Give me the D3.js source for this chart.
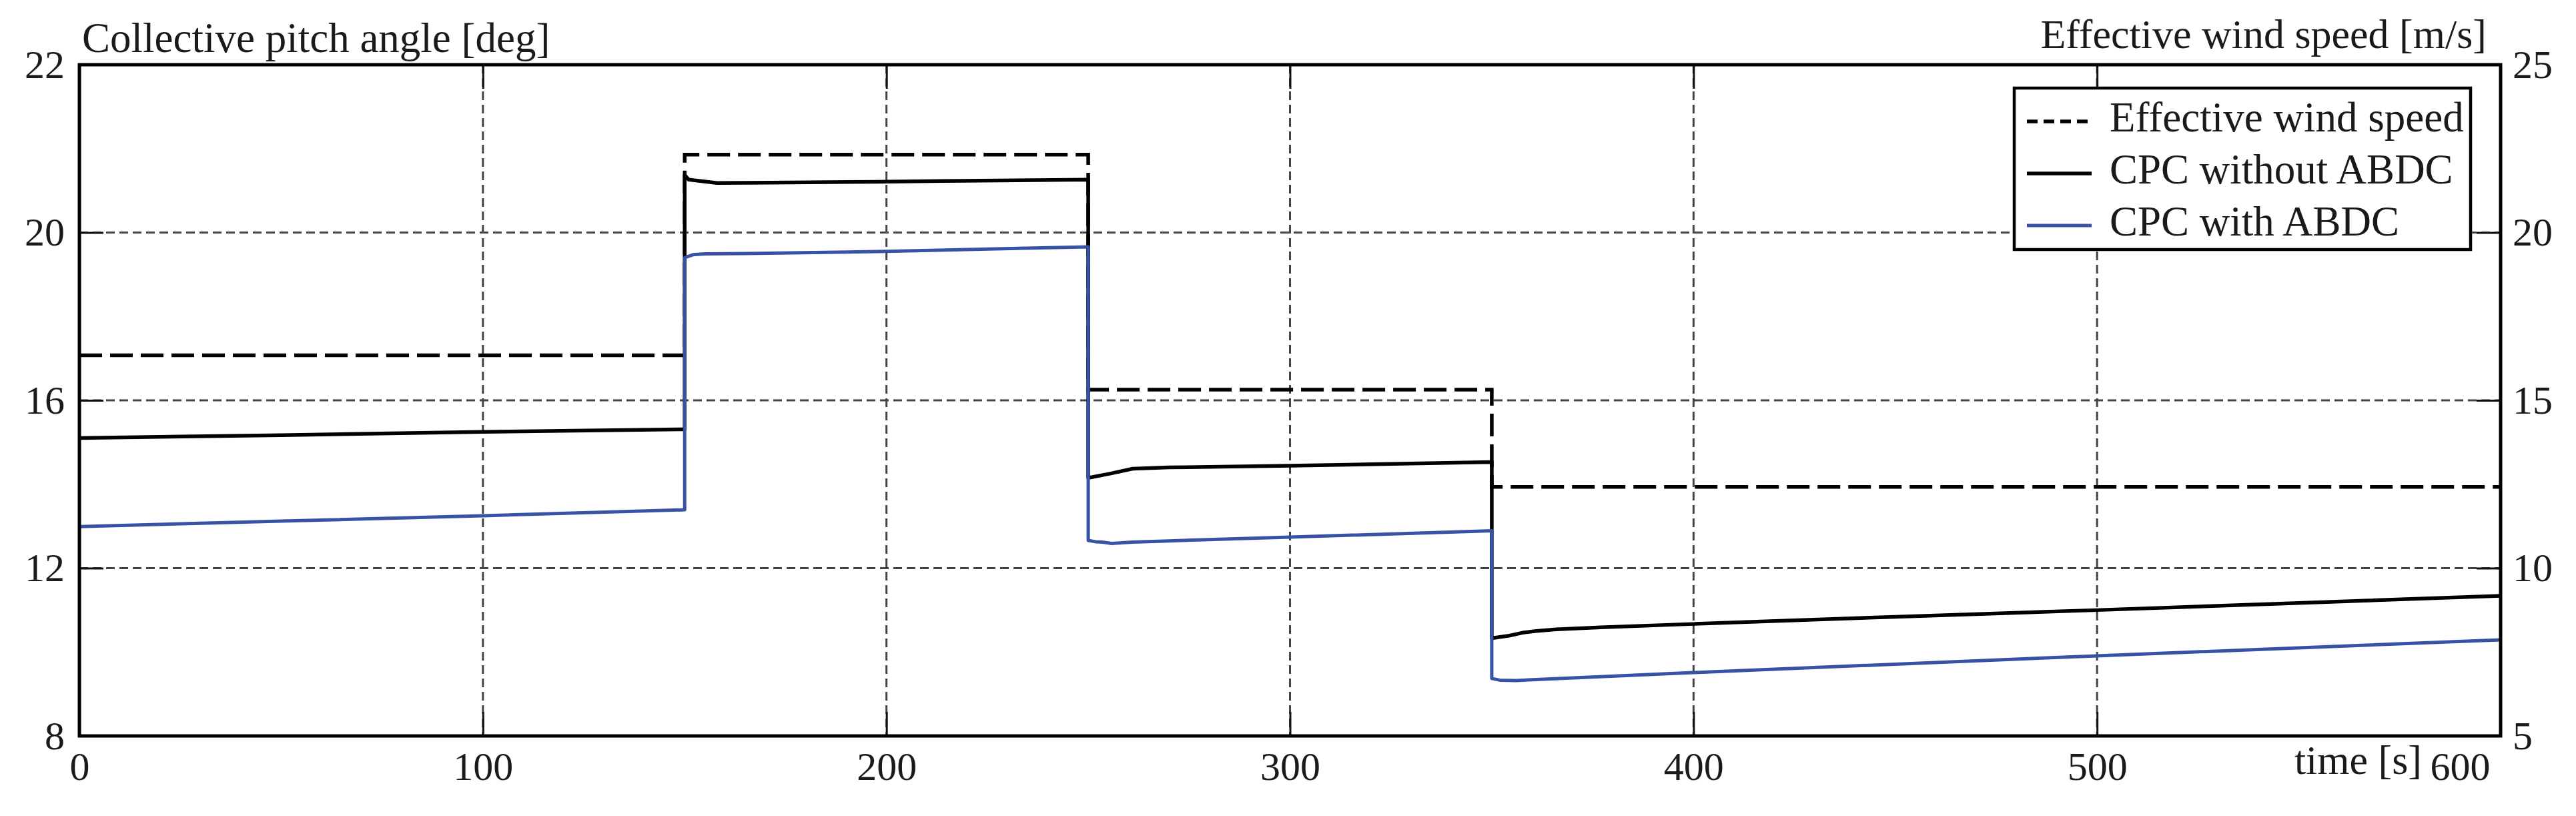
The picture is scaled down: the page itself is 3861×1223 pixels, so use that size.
<!DOCTYPE html>
<html><head><meta charset="utf-8">
<script src="https://cdn.jsdelivr.net/npm/d3@7"></script>
<style>
body{margin:0;background:#fff}
svg{display:block}
text{font-family:"Liberation Serif","Times New Roman",serif;fill:#1a1a1a}
</style>
</head><body>
<svg id="chart" width="3861" height="1223"></svg>
<script>
// ---- data ----
const windTime  = [0, 150, 150, 250, 250, 350, 350, 600];
const windSpeed = [16.34, 16.34, 22.32, 22.32, 15.32, 15.32, 12.42, 12.42];

const noAbdcTime  = [0, 50, 100, 150, 150, 151, 158, 171, 197, 214, 250, 250, 255.8, 261, 270, 300, 350, 350, 354.3, 357.6, 361, 366, 377, 400, 450, 500, 550, 600];
const noAbdcPitch = [15.10, 15.17, 15.25, 15.31, 21.37, 21.26, 21.18, 21.19, 21.21, 21.23, 21.26, 14.15, 14.26, 14.37, 14.40, 14.44, 14.53, 10.33, 10.39, 10.46, 10.50, 10.54, 10.59, 10.67, 10.84, 11.00, 11.17, 11.34];

const abdcTime  = [0, 50, 100, 150, 150, 152, 155, 165, 200, 250, 250, 251.8, 253.5, 255.8, 261, 270, 300, 350, 350, 352, 356, 360, 400, 450, 500, 550, 600];
const abdcPitch = [12.99, 13.12, 13.25, 13.39, 19.40, 19.47, 19.49, 19.50, 19.55, 19.66, 12.66, 12.63, 12.62, 12.59, 12.62, 12.65, 12.74, 12.89, 9.37, 9.33, 9.32, 9.34, 9.51, 9.71, 9.91, 10.10, 10.29];

const xTicks = [0, 100, 200, 300, 400, 500, 600];
const xTickLabels = ["0", "100", "200", "300", "400", "500", "600"];
const leftTicks = [8, 12, 16, 20, 24];
const leftTickLabels = ["8", "12", "16", "20", "22"];
const rightTicks = [5, 10, 15, 20, 25];
const rightTickLabels = ["5", "10", "15", "20", "25"];

const seriesNames = ["Effective wind speed", "CPC without ABDC", "CPC with ABDC"];

// ---- layout ----
const L = 119, R = 3748, T = 97, B = 1103;
const svg = d3.select("#chart");

const x = d3.scaleLinear().domain([0, 600]).range([L, R]);
const yL = d3.scaleLinear().domain([8, 24]).range([B, T]);
const yR = d3.scaleLinear().domain([5, 25]).range([B, T]);

svg.append("defs").append("clipPath").attr("id", "clip")
  .append("rect").attr("x", L).attr("y", T).attr("width", R - L).attr("height", B - T);

// grid
const grid = svg.append("g").attr("stroke", "#444").attr("stroke-width", 3).attr("stroke-dasharray", "13,7");
grid.selectAll(".vg").data(xTicks.slice(1, -1)).join("line")
  .attr("x1", d => x(d)).attr("x2", d => x(d)).attr("y1", T).attr("y2", B);
grid.selectAll(".hg").data(leftTicks.slice(1, -1)).join("line")
  .attr("x1", L).attr("x2", R).attr("y1", d => yL(d)).attr("y2", d => yL(d));

// lines
const plot = svg.append("g").attr("clip-path", "url(#clip)");
const windLine = d3.line().x((d, i) => x(windTime[i])).y(d => yR(d));
plot.append("path").datum(windSpeed).attr("d", windLine)
  .attr("fill", "none").attr("stroke", "#000").attr("stroke-width", 5.5).attr("stroke-dasharray", "34,12");

const noLine = d3.line().x((d, i) => x(noAbdcTime[i])).y(d => yL(d));
plot.append("path").datum(noAbdcPitch).attr("d", noLine)
  .attr("fill", "none").attr("stroke", "#000").attr("stroke-width", 5.5).attr("stroke-linejoin", "round");

const abLine = d3.line().x((d, i) => x(abdcTime[i])).y(d => yL(d));
plot.append("path").datum(abdcPitch).attr("d", abLine)
  .attr("fill", "none").attr("stroke", "#3953a4").attr("stroke-width", 5).attr("stroke-linejoin", "round");

// axes
const fs = 60;
const axB = svg.append("g").attr("transform", `translate(0,${B})`)
  .call(d3.axisBottom(x).tickValues(xTicks).tickFormat((d, i) => xTickLabels[i]).tickSizeInner(-36).tickSizeOuter(0).tickPadding(23));
const axT = svg.append("g").attr("transform", `translate(0,${T})`)
  .call(d3.axisTop(x).tickValues(xTicks).tickFormat("").tickSizeInner(-36).tickSizeOuter(0));
const axL = svg.append("g").attr("transform", `translate(${L},0)`)
  .call(d3.axisLeft(yL).tickValues(leftTicks).tickFormat((d, i) => leftTickLabels[i]).tickSizeInner(-36).tickSizeOuter(0).tickPadding(22));
const axR = svg.append("g").attr("transform", `translate(${R},0)`)
  .call(d3.axisRight(yR).tickValues(rightTicks).tickFormat((d, i) => rightTickLabels[i]).tickSizeInner(-36).tickSizeOuter(0).tickPadding(18));

[axB, axT, axL, axR].forEach(a => {
  a.select(".domain").remove();
  a.selectAll(".tick line").attr("stroke", "#111").attr("stroke-width", 3);
  a.selectAll(".tick text").attr("font-size", fs).attr("font-family", "Liberation Serif").attr("fill", "#1a1a1a");
});
// last bottom label sits left of the 600 tick, after the axis title
axB.selectAll(".tick text").filter(d => d === 600).attr("text-anchor", "end").attr("x", -16);

// border
svg.append("rect").attr("x", L).attr("y", T).attr("width", R - L).attr("height", B - T)
  .attr("fill", "none").attr("stroke", "#000").attr("stroke-width", 5);

// axis titles
svg.append("text").attr("x", 123).attr("y", 78).attr("font-size", 63).text("Collective pitch angle [deg]");
svg.append("text").attr("x", 3727).attr("y", 72).attr("font-size", 62).attr("text-anchor", "end").text("Effective wind speed [m/s]");
svg.append("text").attr("x", 3630).attr("y", 1160).attr("font-size", 62).attr("text-anchor", "end").text("time [s]");

// legend
const lg = svg.append("g");
lg.append("rect").attr("x", 3019).attr("y", 132).attr("width", 684).attr("height", 242)
  .attr("fill", "#fff").attr("stroke", "#000").attr("stroke-width", 4.5);
const legStyles = [
  {stroke: "#000", w: 5.5, dash: "16,9"},
  {stroke: "#000", w: 5.5, dash: null},
  {stroke: "#3953a4", w: 5, dash: null}
];
const legY = [197, 275, 353];
seriesNames.forEach((name, i) => {
  lg.append("line").attr("x1", 3038).attr("x2", 3135).attr("y1", legY[i] - 15).attr("y2", legY[i] - 15)
    .attr("stroke", legStyles[i].stroke).attr("stroke-width", legStyles[i].w)
    .attr("stroke-dasharray", legStyles[i].dash);
  lg.append("text").attr("x", 3162).attr("y", legY[i]).attr("font-size", 63).text(name);
});
</script>
</body></html>
